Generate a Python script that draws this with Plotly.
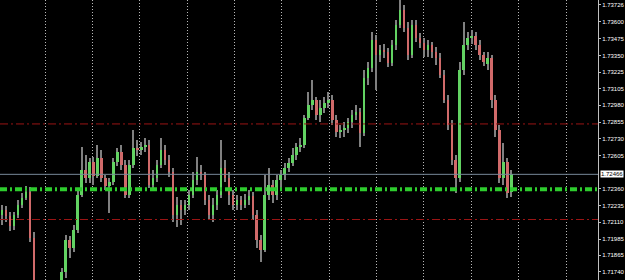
import plotly.graph_objects as go

# OHLC data (price values)
opens = [1.72164,1.72201,1.72156,1.72082,1.72164,1.72238,1.72290,1.72335,1.71993,1.71643,
         1.71532,1.71457,1.71494,1.71532,1.71569,1.71606,1.71740,1.71978,1.71918,1.72052,
         1.72313,1.72499,1.72439,1.72558,1.72454,1.72588,1.72439,1.72380,1.72409,1.72558,
         1.72632,1.72536,1.72313,1.72536,1.72662,1.72647,1.72670,1.72684,1.72387,1.72439,
         1.72536,1.72647,1.72573,1.72484,1.72164,1.72238,1.72201,1.72238,1.72313,1.72424,
         1.72484,1.72461,1.72275,1.72164,1.72238,1.72313,1.72513,1.72439,1.72313,1.72238,
         1.72275,1.72238,1.72275,1.72305,1.72164,1.71978,1.71903,1.72313,1.72387,1.72313,
         1.72424,1.72461,1.72513,1.72551,1.72610,1.72670,1.72684,1.72885,1.72982,1.73019,
         1.72908,1.72960,1.72997,1.73019,1.72870,1.72781,1.72796,1.72811,1.72856,1.72908,
         1.72930,1.72774,1.73183,1.73257,1.73465,1.73354,1.73391,1.73376,1.73294,1.73428,
         1.73577,1.73689,1.73555,1.73354,1.73577,1.73480,1.73443,1.73391,1.73428,1.73376,
         1.73332,1.73205,1.73019,1.72833,1.72573,1.72439,1.73242,1.73428,1.73480,1.73495,
         1.73428,1.73354,1.73287,1.73332,1.73019,1.72796,1.72439,1.72558,1.72335]
highs = [1.72238,1.72231,1.72186,1.72186,1.72275,1.72327,1.72380,1.72372,1.72037,1.71658,
         1.71569,1.71546,1.71569,1.71621,1.71651,1.71770,1.72015,1.72008,1.72089,1.72350,
         1.72670,1.72610,1.72588,1.72595,1.72684,1.72647,1.72461,1.72439,1.72588,1.72662,
         1.72684,1.72573,1.72573,1.72796,1.72722,1.72707,1.72737,1.72722,1.72499,1.72573,
         1.72737,1.72684,1.72610,1.72513,1.72298,1.72275,1.72275,1.72350,1.72484,1.72595,
         1.72536,1.72484,1.72313,1.72290,1.72350,1.72722,1.72573,1.72484,1.72350,1.72313,
         1.72305,1.72320,1.72350,1.72335,1.72201,1.72015,1.72461,1.72513,1.72424,1.72461,
         1.72499,1.72551,1.72588,1.72662,1.72699,1.72737,1.72908,1.73079,1.73168,1.73042,
         1.73019,1.73042,1.73079,1.73056,1.72908,1.72833,1.72856,1.72885,1.72945,1.72982,
         1.72960,1.73242,1.73302,1.73525,1.73503,1.73428,1.73436,1.73406,1.73465,1.73614,
         1.73763,1.73726,1.73599,1.73614,1.73614,1.73518,1.73480,1.73465,1.73451,1.73413,
         1.73369,1.73242,1.73056,1.72870,1.72610,1.73302,1.73599,1.73525,1.73540,1.73525,
         1.73465,1.73376,1.73376,1.73354,1.73056,1.72833,1.72699,1.72588,1.72499]
lows = [1.72089,1.72112,1.72045,1.72052,1.72142,1.72216,1.72275,1.71963,1.71606,1.71494,
        1.71420,1.71420,1.71442,1.71494,1.71532,1.71569,1.71695,1.71844,1.71889,1.72030,
        1.72298,1.72402,1.72402,1.72387,1.72439,1.72409,1.72350,1.72179,1.72387,1.72528,
        1.72499,1.72290,1.72290,1.72513,1.72603,1.72610,1.72632,1.72365,1.72365,1.72409,
        1.72513,1.72536,1.72446,1.72112,1.72075,1.72089,1.72164,1.72201,1.72290,1.72387,
        1.72424,1.72238,1.72127,1.72112,1.72201,1.72290,1.72409,1.72238,1.72201,1.72201,
        1.72201,1.72216,1.72238,1.72127,1.71918,1.71814,1.71889,1.72275,1.72253,1.72275,
        1.72365,1.72424,1.72484,1.72528,1.72573,1.72632,1.72662,1.72870,1.72945,1.72870,
        1.72856,1.72923,1.72960,1.72833,1.72744,1.72737,1.72744,1.72774,1.72811,1.72870,
        1.72670,1.72751,1.73131,1.73227,1.73094,1.73302,1.73332,1.73265,1.73272,1.73391,
        1.73555,1.73525,1.73317,1.73332,1.73451,1.73406,1.73339,1.73339,1.73332,1.73280,
        1.73183,1.72997,1.72796,1.72536,1.72327,1.72409,1.73205,1.73391,1.73436,1.73391,
        1.73317,1.73272,1.73242,1.72960,1.72744,1.72402,1.72387,1.72290,1.72298]
closes = [1.72201,1.72156,1.72082,1.72164,1.72238,1.72290,1.72335,1.71993,1.71643,1.71532,
          1.71457,1.71494,1.71532,1.71569,1.71606,1.71740,1.71978,1.71918,1.72052,1.72313,
          1.72499,1.72439,1.72558,1.72454,1.72588,1.72439,1.72380,1.72409,1.72558,1.72632,
          1.72536,1.72313,1.72536,1.72662,1.72647,1.72670,1.72684,1.72387,1.72439,1.72536,
          1.72647,1.72573,1.72484,1.72164,1.72238,1.72201,1.72238,1.72313,1.72424,1.72484,
          1.72461,1.72275,1.72164,1.72238,1.72313,1.72513,1.72439,1.72313,1.72238,1.72275,
          1.72238,1.72275,1.72305,1.72164,1.71978,1.71903,1.72313,1.72387,1.72313,1.72424,
          1.72461,1.72513,1.72551,1.72610,1.72670,1.72684,1.72885,1.72982,1.73019,1.72908,
          1.72960,1.72997,1.73019,1.72870,1.72781,1.72796,1.72811,1.72856,1.72908,1.72930,
          1.72774,1.73183,1.73257,1.73465,1.73354,1.73391,1.73376,1.73294,1.73428,1.73577,
          1.73689,1.73555,1.73354,1.73577,1.73480,1.73443,1.73391,1.73428,1.73376,1.73332,
          1.73205,1.73019,1.72833,1.72573,1.72439,1.73242,1.73428,1.73480,1.73495,1.73428,
          1.73354,1.73302,1.73332,1.73019,1.72796,1.72439,1.72558,1.72327,1.72466]

tick_vals = [1.73726,1.73600,1.73475,1.73350,1.73225,1.73105,1.72980,1.72855,1.72730,1.72605,
             1.72360,1.72235,1.72110,1.71985,1.71865,1.71740]
tick_text = ["%.5f" % v for v in tick_vals]

current_price = 1.72466
resist_level = 1.72841
support_level = 1.72130
green_level = 1.72355

n = len(closes)
xs = list(range(n))

GREEN = "#62d262"
RED = "#d06a6a"
WICK = "#808080"

body_base = [min(o, c) for o, c in zip(opens, closes)]
body_h = [max(abs(c - o), 0.00002) for o, c in zip(opens, closes)]
body_col = [GREEN if c >= o else RED for o, c in zip(opens, closes)]

fig = go.Figure()
fig.add_trace(go.Bar(x=xs, base=lows, y=[h - l for h, l in zip(highs, lows)],
                     width=0.27, marker=dict(color=WICK, line=dict(width=0)),
                     hoverinfo="skip", showlegend=False))
fig.add_trace(go.Bar(x=xs, base=body_base, y=body_h, width=0.62,
                     marker=dict(color=body_col, line=dict(width=0)),
                     hoverinfo="skip", showlegend=False))

# horizontal levels
fig.add_hline(y=resist_level, line=dict(color="#9a1414", width=1, dash="8px,3px,2px,3px"))
fig.add_hline(y=support_level, line=dict(color="#9a1414", width=1, dash="8px,3px,2px,3px"))
fig.add_hline(y=current_price, line=dict(color="#778899", width=1))
fig.add_hline(y=green_level, line=dict(color="#2ecc2e", width=4, dash="7px,3px,2px,3px"))

fig.add_annotation(xref="paper", yref="y", x=1, y=current_price, xanchor="left",
                   xshift=2, text="1.72466", showarrow=False, bgcolor="white",
                   font=dict(color="black", size=6, family="Liberation Sans"),
                   borderpad=0)

x0 = -0.5
fig.update_layout(
    width=625, height=280,
    margin=dict(l=0, r=24, t=0, b=0),
    paper_bgcolor="black", plot_bgcolor="black",
    barmode="overlay", bargap=0,
    showlegend=False,
    xaxis=dict(range=[x0, x0 + 601 / 4], showticklabels=False, ticks="",
               showgrid=True, gridcolor="#b8b8b8", griddash="1px,2px", gridwidth=1,
               tick0=10.83, dtick=11.9, zeroline=False, showline=False, fixedrange=True),
    yaxis=dict(side="right", range=[1.71680, 1.73763], tickvals=tick_vals, ticktext=tick_text,
               showgrid=False, zeroline=False, showline=True, linecolor="#c0c0c0", linewidth=1,
               ticks="outside", ticklen=2, tickcolor="#c0c0c0",
               tickfont=dict(color="white", size=6, family="Liberation Sans"), fixedrange=True),
)

fig.write_html("out.html")
